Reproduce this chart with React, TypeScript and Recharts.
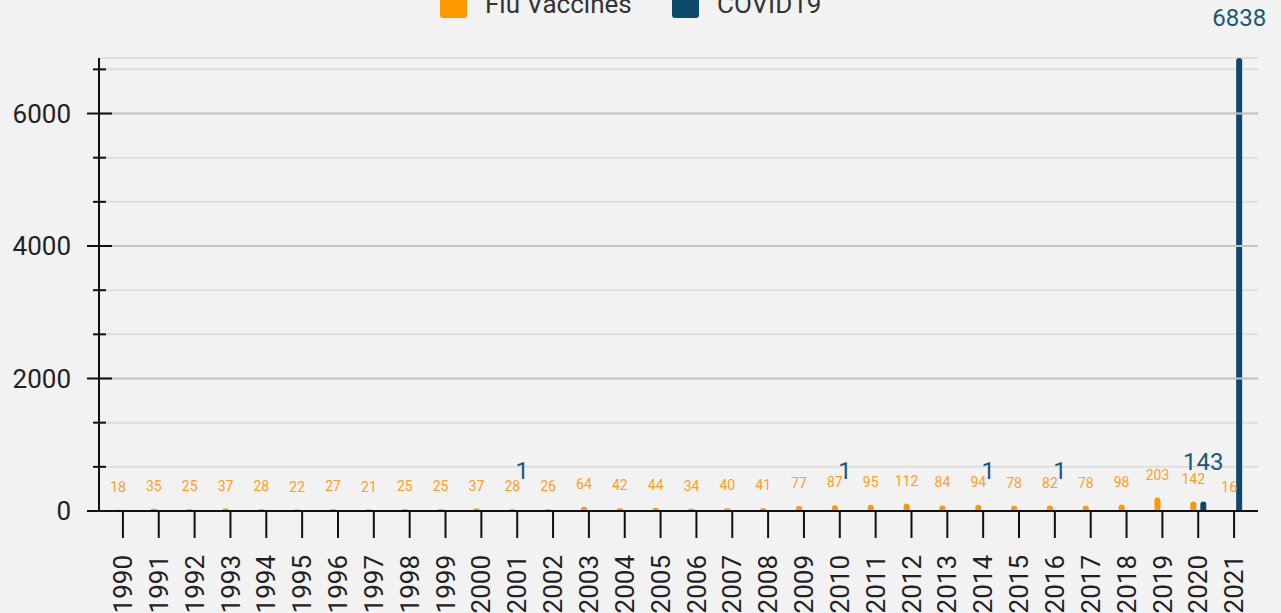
import React from 'react';
import { BarChart, Bar, XAxis, YAxis, CartesianGrid, ReferenceLine, LabelList, Legend } from 'recharts';

const years = [
  '1990', '1991', '1992', '1993', '1994', '1995', '1996', '1997', '1998', '1999',
  '2000', '2001', '2002', '2003', '2004', '2005', '2006', '2007', '2008', '2009',
  '2010', '2011', '2012', '2013', '2014', '2015', '2016', '2017', '2018', '2019',
  '2020', '2021'
];

const fluVaccines = [
  18, 35, 25, 37, 28, 22, 27, 21, 25, 25,
  37, 28, 26, 64, 42, 44, 34, 40, 41, 77,
  87, 95, 112, 84, 94, 78, 82, 78, 98, 203,
  142, 16
];

const covid19 = [
  null, null, null, null, null, null, null, null, null, null,
  null, 1, null, null, null, null, null, null, null, null,
  1, null, null, null, 1, null, 1, null, null, null,
  143, 6838
];

const yMajorTicks = [0, 2000, 4000, 6000];
const yAllTicks = [0, 666.67, 1333.33, 2000, 2666.67, 3333.33, 4000, 4666.67, 5333.33, 6000, 6666.67];

const series = [
  { key: 'flu', name: 'Flu Vaccines', color: '#FF9900' },
  { key: 'covid', name: 'COVID19', color: '#0B4A6A' }
];

const data = years.map((year, i) => ({ year, flu: fluVaccines[i], covid: covid19[i] }));

const FONT = 'Roboto, "Noto Sans", sans-serif';

function YTick(props: any) {
  const { x, y, payload } = props;
  const major = yMajorTicks.includes(payload.value);
  return (
    <g>
      <line x1={x - (major ? 12 : 6)} x2={x + (major ? 13 : 7)} y1={y} y2={y} stroke="#111" strokeWidth={2} />
      {major && (
        <text x={x - 28} y={y} dy="0.35em" textAnchor="end" fontSize={26} fill="#222" fontFamily={FONT}>
          {payload.value}
        </text>
      )}
    </g>
  );
}

function XTick(props: any) {
  const { x, y, payload } = props;
  return (
    <text
      transform={`translate(${x},${y}) rotate(-90)`}
      textAnchor="end"
      dy="0.35em"
      fontSize={26}
      fill="#222"
      fontFamily={FONT}
    >
      {payload.value}
    </text>
  );
}

function renderLegend() {
  // legend sits partly above the top edge, like the original
  const items = [
    { ...series[0], x: 440, textX: 485 },
    { ...series[1], x: 672, textX: 717 }
  ];
  return (
    <svg width={1281} height={30} style={{ overflow: 'visible', display: 'block' }}>
      {items.map((it) => (
        <g key={it.key}>
          <rect x={it.x} y={-8} width={27} height={26} rx={3} fill={it.color} />
          <text x={it.textX} y={13} fontSize={26} fill="#333" fontFamily={FONT}>{it.name}</text>
        </g>
      ))}
    </svg>
  );
}

export default function App() {
  return (
    <div style={{ position: 'absolute', left: 0, top: 0, width: 1281, height: 613, background: '#F2F2F2', fontFamily: FONT, overflow: 'hidden' }}>
      <BarChart
        width={1281}
        height={613}
        data={data}
        margin={{ top: 58, right: 23, bottom: 0, left: 0 }}
        barSize={6}
        barGap={4}
      >
        <CartesianGrid vertical={false} stroke="#DEDEDE" strokeWidth={2} />
        {yMajorTicks.slice(1).map((v) => (
          <ReferenceLine key={v} y={v} stroke="#C4C4C4" strokeWidth={2} />
        ))}
        <XAxis
          dataKey="year"
          interval={0}
          height={102}
          padding={{ left: 6, right: 6 }}
          axisLine={{ stroke: '#111', strokeWidth: 2 }}
          tickLine={{ stroke: '#111', strokeWidth: 2 }}
          tickSize={27}
          tickMargin={17}
          tick={<XTick />}
        />
        <YAxis
          width={99}
          domain={[0, 6838]}
          ticks={yAllTicks}
          interval={0}
          axisLine={{ stroke: '#111', strokeWidth: 2 }}
          tickLine={false}
          tickSize={0}
          tickMargin={0}
          tick={<YTick />}
        />
        <Legend
          layout="horizontal"
          verticalAlign="middle"
          align="center"
          wrapperStyle={{ top: 0, left: 0, width: 1281 }}
          content={renderLegend}
        />
        <Bar dataKey="flu" name="Flu Vaccines" fill={series[0].color} radius={[3, 3, 0, 0]} isAnimationActive={false}>
          <LabelList dataKey="flu" position="top" offset={18} fontSize={14} fill="#FFA023" fontFamily={FONT} />
        </Bar>
        <Bar dataKey="covid" name="COVID19" fill={series[1].color} radius={[3, 3, 0, 0]} isAnimationActive={false}>
          <LabelList dataKey="covid" position="top" offset={32} fontSize={24} fill="#1A5878" fontFamily={FONT} />
        </Bar>
      </BarChart>
    </div>
  );
}
